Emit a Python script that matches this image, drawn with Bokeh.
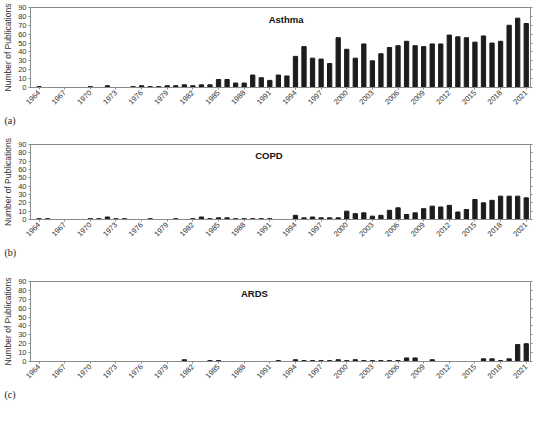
from math import pi
from bokeh.plotting import figure
from bokeh.layouts import column
from bokeh.models import FixedTicker, LinearAxis, Range1d, Label, Title, ColumnDataSource
from bokeh.embed import file_html
from bokeh.resources import INLINE

years = list(range(1964, 2022))
asthma = [1, 0, 0, 0, 0, 0, 1, 0, 2, 0,
          0, 1, 2, 1, 1, 2, 2, 3, 2, 3,
          3, 9, 9, 5, 5, 14, 11, 8, 14, 13,
          35, 46, 33, 32, 27, 56, 43, 33, 49, 30,
          38, 45, 47, 52, 47, 46, 49, 49, 59, 57,
          56, 51, 58, 50, 52, 70, 78, 72]
copd = [1, 1, 0, 0, 0, 0, 1, 1, 3, 1,
        1, 0, 0, 1, 0, 0, 1, 0, 1, 3,
        1, 2, 2, 1, 1, 1, 1, 1, 0, 0,
        5, 2, 3, 2, 2, 2, 10, 7, 8, 4,
        5, 11, 14, 6, 8, 13, 16, 15, 17, 9,
        12, 24, 20, 23, 28, 28, 28, 26]
ards = [0, 0, 0, 0, 0, 0, 0, 0, 0, 0,
        0, 0, 0, 0, 0, 0, 0, 2, 0, 0,
        1, 1, 0, 0, 0, 0, 0, 0, 1, 0,
        2, 1, 1, 1, 1, 2, 1, 2, 1, 1,
        1, 1, 1, 4, 4, 0, 2, 0, 0, 0,
        0, 0, 3, 3, 1, 3, 19, 20]
tick_years = list(range(1964, 2022, 3))
y_ticks = list(range(0, 91, 10))

panels = [
    ("Asthma", asthma, "(a)", 1992.9, 130, 7, 43),
    ("COPD", copd, "(b)", 1990.9, 130, 14, 36),
    ("ARDS", ards, "(c)", 1989.2, 146, 21, 45),
]

AX = "#8a8a8a"
TXT = "#333333"
FONT = "Liberation Sans"

figs = []
for name, vals, tag, tx, h, top, bot in panels:
    src = ColumnDataSource(dict(year=years, n=vals))
    p = figure(width=534, height=h, output_backend="svg", toolbar_location=None,
               x_range=Range1d(1963.0, 2021.5), y_range=Range1d(0, 90),
               min_border_top=top, min_border_bottom=bot,
               min_border_left=4, min_border_right=4)
    p.vbar(x="year", top="n", width=0.5, source=src, color="#1c1c1c")
    p.grid.visible = False
    p.outline_line_color = AX
    p.outline_line_width = 1
    p.background_fill_color = "white"
    p.border_fill_color = "white"

    xa = p.xaxis[0]
    xa.ticker = FixedTicker(ticks=tick_years)
    xa.major_label_orientation = pi / 4
    xa.major_label_text_font = FONT
    xa.major_label_text_font_size = "7.5px"
    xa.major_label_text_color = TXT
    xa.axis_line_color = AX
    xa.major_tick_line_color = AX
    xa.major_tick_out = 2
    xa.major_tick_in = 0
    xa.minor_tick_line_color = None
    xa.major_label_standoff = 2

    ya = p.yaxis[0]
    ya.ticker = FixedTicker(ticks=y_ticks)
    ya.axis_label = "Number of Publications"
    ya.axis_label_text_font = FONT
    ya.axis_label_text_font_size = "8.5px"
    ya.axis_label_text_font_style = "normal"
    ya.axis_label_text_color = TXT
    ya.axis_label_standoff = 2
    ya.major_label_text_font = FONT
    ya.major_label_text_font_size = "7.5px"
    ya.major_label_text_color = TXT
    ya.major_label_standoff = 2
    ya.axis_line_color = AX
    ya.major_tick_line_color = AX
    ya.major_tick_out = 2
    ya.major_tick_in = 0
    ya.minor_tick_line_color = None

    ra = LinearAxis(ticker=FixedTicker(ticks=y_ticks), axis_line_color=AX,
                    major_tick_line_color=AX, major_tick_out=2, major_tick_in=0,
                    minor_tick_line_color=None, major_label_text_color=None,
                    major_label_text_font_size="1px", major_label_standoff=0)
    p.add_layout(ra, "right")

    p.add_layout(Label(x=tx, y=77, text=name, text_align="center",
                       text_baseline="middle", text_font=FONT,
                       text_font_size="9.5px", text_font_style="bold",
                       text_color="#111111"))
    p.add_layout(Title(text=tag, align="left", offset=-26, standoff=6,
                       text_font="Liberation Serif", text_font_size="10px",
                       text_font_style="normal", text_color="#222222"), "below")
    figs.append(p)

layout = column(*figs, spacing=0)
open("out.html", "w").write(file_html(layout, INLINE))
